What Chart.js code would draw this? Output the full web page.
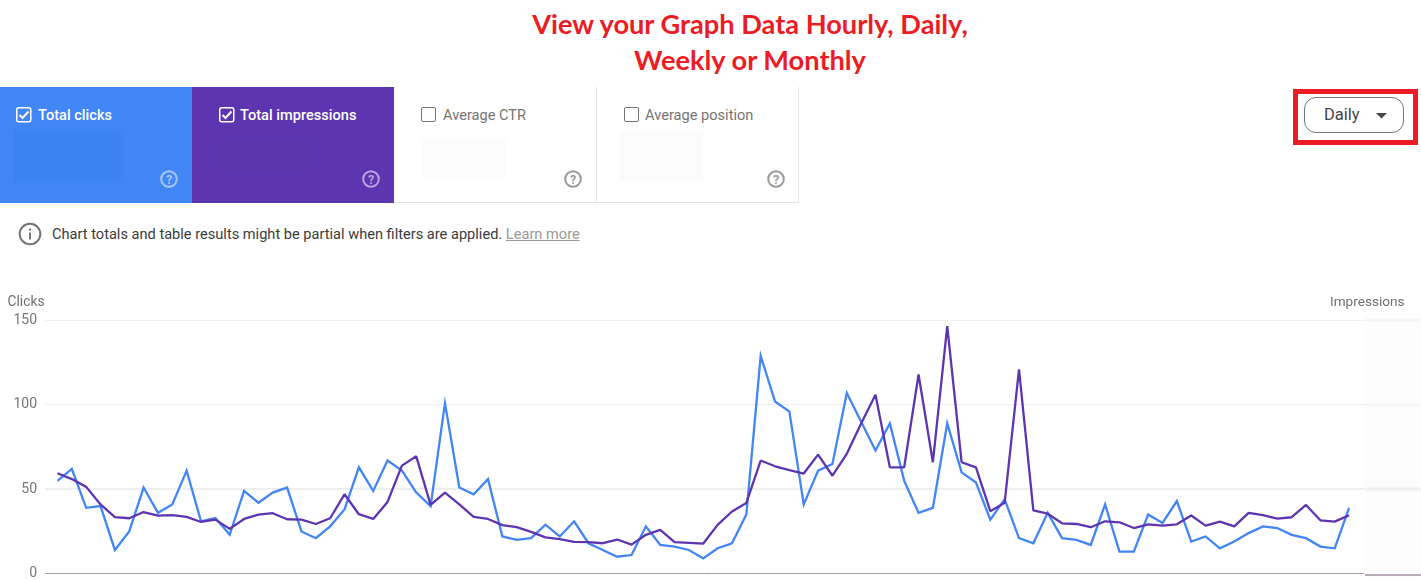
<!DOCTYPE html>
<html><head><meta charset="utf-8">
<script src="https://cdn.jsdelivr.net/npm/chart.js@4"></script>
<style>
html,body{margin:0;padding:0;background:#fff;width:1421px;height:580px;overflow:hidden;font-family:Roboto,sans-serif}
.a{position:absolute}
#title{left:0;width:1500px;top:6px;text-align:center;color:#ed1c24;font:700 27.2px/36px Lato,sans-serif}
.card{top:87px;height:116px;box-sizing:border-box}
.lab{top:106px;font-size:14.6px;line-height:18px;white-space:nowrap}
.cb{top:107px;width:13px;height:13px;border-radius:2px;box-sizing:border-box;border:1.5px solid #757575}
.blur{border-radius:1px}
.help{width:18px;height:18px;top:170px}
#chartbox{left:0;top:290px;width:1421px;height:300px}
</style></head><body>
<div class="a" id="title">View your Graph Data Hourly, Daily,<br>Weekly or Monthly</div>

<div class="a card" style="left:0;width:192px;background:#4285f4"></div>
<div class="a card" style="left:192px;width:202px;background:#5e35b1"></div>
<div class="a card" style="left:394px;width:203px;border-bottom:1px solid #e3e3e3;border-right:1px solid #e3e3e3"></div>
<div class="a card" style="left:597px;width:202px;border-bottom:1px solid #e3e3e3;border-right:1px solid #e3e3e3"></div>

<div class="a blur" style="left:13px;top:129px;width:111px;height:54px;background:#3b82f3"></div>
<div class="a blur" style="left:219px;top:140px;width:92px;height:31px;background:#5a36ab"></div>
<div class="a blur" style="left:422px;top:140px;width:84px;height:37px;background:#fbfbfb"></div>
<div class="a blur" style="left:620px;top:133px;width:83px;height:48px;background:#fbfbfb"></div>

<svg class="a" style="left:16px;top:107px" width="16" height="16" viewBox="0 0 16 16"><rect x=".75" y=".75" width="14" height="14" rx="2" fill="none" stroke="#fff" stroke-width="1.5"/><path d="M3.500 8l3 3 6-6.500" fill="none" stroke="#fff" stroke-width="2"/></svg>
<svg class="a" style="left:219px;top:107px" width="16" height="16" viewBox="0 0 16 16"><rect x=".75" y=".75" width="14" height="14" rx="2" fill="none" stroke="#fff" stroke-width="1.5"/><path d="M3.500 8l3 3 6-6.500" fill="none" stroke="#fff" stroke-width="2"/></svg>
<div class="a cb" style="left:421px;width:15px;height:15px"></div>
<div class="a cb" style="left:624px;width:15px;height:15px"></div>
<div class="a lab" style="left:38px;color:#fff;font-weight:500">Total clicks</div>
<div class="a lab" style="left:240px;color:#fff;font-weight:500">Total impressions</div>
<div class="a lab" style="left:443px;color:#757575">Average CTR</div>
<div class="a lab" style="left:645px;color:#757575">Average position</div>

<svg class="a help" style="left:159.500px" viewBox="0 0 18 18"><circle cx="9" cy="9" r="7.800" fill="none" stroke="#a9c6fa" stroke-width="2"/><text x="9" y="13.500" text-anchor="middle" font-size="12.500" font-weight="700" fill="#a9c6fa" font-family="Roboto">?</text></svg>
<svg class="a help" style="left:361.500px" viewBox="0 0 18 18"><circle cx="9" cy="9" r="7.800" fill="none" stroke="#b6a4de" stroke-width="2"/><text x="9" y="13.500" text-anchor="middle" font-size="12.500" font-weight="700" fill="#b6a4de" font-family="Roboto">?</text></svg>
<svg class="a help" style="left:564px" viewBox="0 0 18 18"><circle cx="9" cy="9" r="7.800" fill="none" stroke="#9a9a9a" stroke-width="2"/><text x="9" y="13.500" text-anchor="middle" font-size="12.500" font-weight="700" fill="#9a9a9a" font-family="Roboto">?</text></svg>
<svg class="a help" style="left:766.500px" viewBox="0 0 18 18"><circle cx="9" cy="9" r="7.800" fill="none" stroke="#9a9a9a" stroke-width="2"/><text x="9" y="13.500" text-anchor="middle" font-size="12.500" font-weight="700" fill="#9a9a9a" font-family="Roboto">?</text></svg>

<svg class="a" style="left:18px;top:222px" width="24" height="24" viewBox="0 0 24 24"><circle cx="12" cy="12" r="10.300" fill="none" stroke="#757575" stroke-width="2"/><rect x="11" y="6.500" width="2" height="2.200" fill="#757575"/><rect x="11" y="10.500" width="2" height="7" fill="#757575"/></svg>
<div class="a" style="left:52px;top:225px;font-size:14.6px;line-height:18px;color:#3c3c3c;white-space:nowrap">Chart totals and table results might be partial when filters are applied. <span style="color:#9a9a9a;text-decoration:underline">Learn more</span></div>

<div class="a" style="left:1293px;top:89px;width:125px;height:56px;box-sizing:border-box;border:5px solid #ed1c24"></div>
<div class="a" style="left:1304px;top:97px;width:100px;height:36px;box-sizing:border-box;border:1px solid #757575;border-radius:12px"></div>
<div class="a" style="left:1324px;top:105px;font-size:16.500px;line-height:19px;color:#444">Daily</div>
<svg class="a" style="left:1376px;top:113px" width="12" height="6"><path d="M0 0h11L5.500 5.500z" fill="#444"/></svg>

<div class="a" style="left:1365px;top:317px;width:56px;height:263px;background:#fdfdfd;filter:blur(2px)"></div>
<div class="a" style="left:1365px;top:319px;width:56px;height:2px;background:#f0f0f0;filter:blur(1px)"></div>
<div class="a" style="left:1365px;top:404px;width:56px;height:2px;background:#f2f2f2;filter:blur(1px)"></div>
<div class="a" style="left:1365px;top:488px;width:56px;height:2px;background:#e8e8e8;filter:blur(1px)"></div>
<div class="a" style="left:1365px;top:574px;width:56px;height:2px;background:#b9a9b9;filter:blur(.6px)"></div>

<div class="a" id="chartbox"><canvas id="c"></canvas></div>
<div class="a" style="left:7.500px;top:293px;font-size:13.800px;line-height:16px;color:#6f6f6f">Clicks</div>
<div class="a" style="left:1330px;top:293px;font-size:13.600px;line-height:16px;color:#6f6f6f">Impressions</div>

<script>
const days = [0,1,2,3,4,5,6,7,8,9,10,11,12,13,14,15,16,17,18,19,20,21,22,23,24,25,26,27,28,29,30,31,32,33,34,35,36,37,38,39,40,41,42,43,44,45,46,47,48,49,50,51,52,53,54,55,56,57,58,59,60,61,62,63,64,65,66,67,68,69,70,71,72,73,74,75,76,77,78,79,80,81,82,83,84,85,86,87,88,89,90];
const clicks = [55,62,39,40,14,25,51,36,41,61,31,33,23,49,42,48,51,25,21,28,38,63,49,67,61,48,40,101,51,47,56,22,20,21,29,22,31,18,14,10,11,28,17,16,14,9,15,18,35,129,102,96,41,61,65,107,90,73,89,55,36,39,89,60,54,32,44,21,18,36,21,20,17,41,13,13,35,30,43,19,22,15,19,24,28,27,23,21,16,15,39];
const impressions = [59.5,56,51.4,41,33.5,32.8,36.5,34.4,34.6,33.6,30.6,32,26.5,32.4,35,35.8,32.2,32,29.4,32.8,47,35.2,32.4,42.5,64,69.5,40.7,48,41,33.6,32.4,28.7,27.5,24.7,21.5,20.4,18.8,18.6,18,20.2,17.2,23,25.9,18.6,18.2,17.8,28.9,36.8,41.9,67,63.6,61.3,59.3,70.5,58,71,89,106,63,63,118,66,146.6,66,63,37,42,121,37.5,35.5,29.8,29.4,27.5,31,30.4,27,29.2,28.4,29.2,34.4,28.4,30.8,28,36,34.6,32.6,33.4,40.7,31.6,30.8,34.6];
const yTicks = [0,50,100,150];

new Chart(document.getElementById('c'), {
  type: 'line',
  data: {
    labels: days,
    datasets: [
      {label:'Total clicks', data: clicks, borderColor:'#4285f4', borderWidth:2.3, pointRadius:0, tension:0, borderJoinStyle:'miter', order:2},
      {label:'Total impressions', data: impressions, borderColor:'#5e35b1', borderWidth:2.3, pointRadius:0, tension:0, borderJoinStyle:'bevel', order:1}
    ]
  },
  options: {
    responsive:true, maintainAspectRatio:false, animation:false,
    layout:{autoPadding:false,padding:{top:30.5,right:57,bottom:6.6,left:0}},
    plugins:{legend:{display:false},tooltip:{enabled:false}},
    scales:{
      x:{type:'linear',min:-0.87,max:91.04,display:false},
      y:{min:0,max:150,
         afterBuildTicks:s=>{s.ticks=yTicks.map(v=>({value:v}));},
         afterFit:s=>{s.width=45;},
         ticks:{color:'#757575',font:{family:'Roboto',size:14},padding:8},
         grid:{color:c=>c.tick&&c.tick.value===0?'#9e9e9e':'#eeeeee',
               lineWidth:c=>c.tick&&c.tick.value===50?2:1,drawTicks:false},
         border:{display:false}}
    }
  }
});
</script>
</body></html>
